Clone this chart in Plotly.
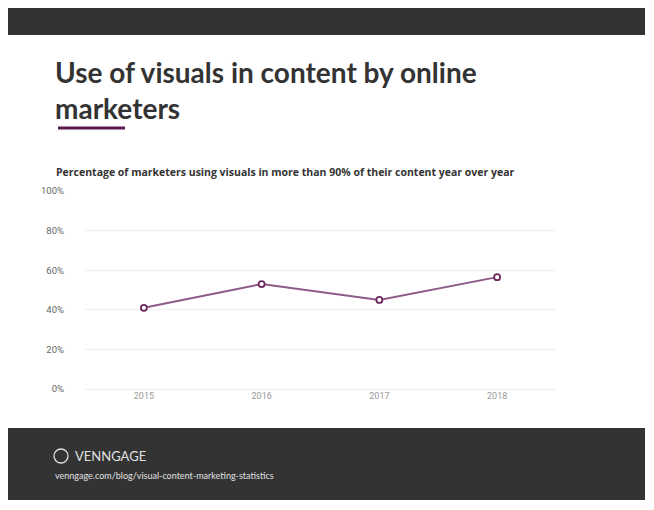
import plotly.graph_objects as go

years = ["2015", "2016", "2017", "2018"]
values = [41, 53, 45, 56.5]
y_ticks = [0, 20, 40, 60, 80, 100]
y_tick_labels = ["0%", "20%", "40%", "60%", "80%", "100%"]

OFF = 8  # page body margin
W, H = 654 - OFF, 510 - OFF
L, R, T, B = 85 - OFF, 556 - OFF, 191 - OFF, 389 - OFF
def px(x): return (x - OFF - L) / (R - L)
def py(y): return (B - (y - OFF)) / (B - T)

fig = go.Figure(go.Scatter(
    x=years, y=values, mode="lines+markers",
    line=dict(color="#8e5a88", width=2),
    marker=dict(size=6, color="white", line=dict(color="#6e2a5e", width=1.8)),
    hoverinfo="skip"))

dark = "#333333"
shapes = [
    dict(type="rect", xref="paper", yref="paper", x0=px(8), x1=px(645), y0=py(8), y1=py(35), fillcolor=dark, line_width=0, layer="below"),
    dict(type="rect", xref="paper", yref="paper", x0=px(8), x1=px(645), y0=py(428), y1=py(500), fillcolor=dark, line_width=0, layer="below"),
    dict(type="line", xref="paper", yref="paper", x0=px(58), x1=px(125), y0=py(128), y1=py(128), line=dict(color="#5a1a4e", width=3)),
    dict(type="circle", xref="paper", yref="paper", x0=px(54), x1=px(68), y0=py(449), y1=py(463), line=dict(color="#dddddd", width=1.3)),
]

ann = [
    dict(text="<b>Use of visuals in content by online<br>marketers</b>", x=px(53), y=py(53), xanchor="left", yanchor="top",
         font=dict(family="Lato", size=28, color="#333333"), align="left"),
    dict(text="<b>Percentage of marketers using visuals in more than 90% of their content year over year</b>", x=px(54), y=py(172),
         xanchor="left", yanchor="middle", font=dict(family="Open Sans", size=10.5, color="#333333")),
    dict(text="VENNGAGE", x=px(73), y=py(456), xanchor="left", yanchor="middle", font=dict(family="Lato", size=13, color="#e0e0e0")),
    dict(text="venngage.com/blog/visual-content-marketing-statistics", x=px(53), y=py(475), xanchor="left", yanchor="middle",
         font=dict(family="Lato", size=9, color="#e0e0e0")),
]
for a in ann:
    a.update(xref="paper", yref="paper", showarrow=False)

fig.update_layout(
    width=W, height=H, margin=dict(l=L, r=W - R, t=T, b=H - B),
    paper_bgcolor="white", plot_bgcolor="white", showlegend=False,
    shapes=shapes, annotations=ann,
    xaxis=dict(type="category", range=[-0.5, 3.5], showgrid=False, zeroline=False, showline=False,
               tickfont=dict(family="Roboto", size=9, color="#999999"), ticks=""),
    yaxis=dict(range=[0, 100], tickvals=y_ticks, ticktext=y_tick_labels, showgrid=True, gridcolor="#eeeeee",
               zeroline=True, zerolinecolor="#eeeeee", zerolinewidth=1,
               tickfont=dict(family="Roboto", size=9.5, color="#666666"), ticklabelstandoff=20,
               ticks=""),
)
fig.write_html("out.html")
